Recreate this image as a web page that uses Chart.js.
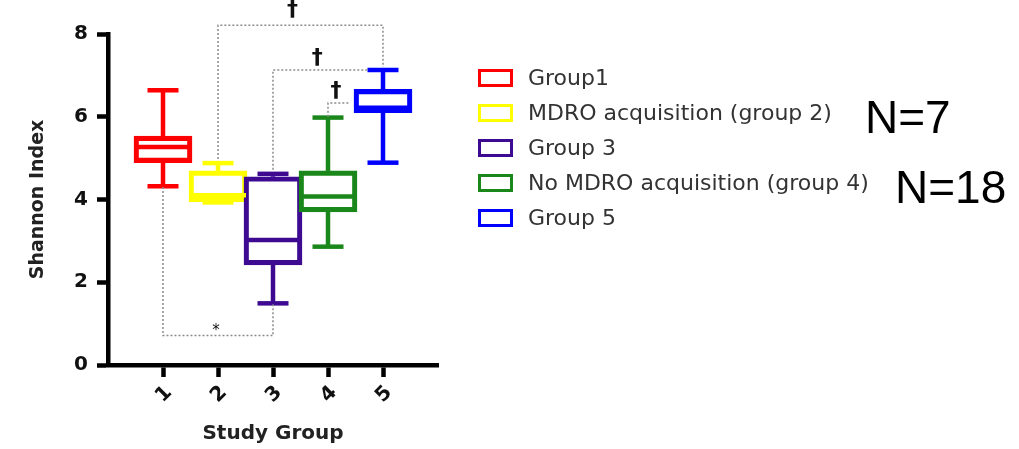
<!DOCTYPE html>
<html>
<head>
<meta charset="utf-8">
<script src="https://cdn.jsdelivr.net/npm/chart.js@4.4.1/dist/chart.umd.min.js"></script>
<style>
  html, body { margin: 0; padding: 0; background: #fff; }
  canvas { display: block; }
</style>
</head>
<body>
<canvas id="chart" width="1019" height="449"></canvas>
<script>
// Shannon index per study group (box = Q1..Q3, whiskers = min..max)
const groups = [1, 2, 3, 4, 5];
const groupNames = ['Group1', 'MDRO acquisition (group 2)', 'Group 3', 'No MDRO acquisition (group 4)', 'Group 5'];
const sampleNotes = ['', 'N=7', '', 'N=18', ''];
const lows = [4.32, 3.93, 1.49, 2.86, 4.89];
const q1s = [4.89, 3.95, 2.42, 3.70, 6.10];
const medians = [5.27, 4.10, 3.02, 4.07, 6.22];
const q3s = [5.53, 4.69, 4.55, 4.69, 6.66];
const highs = [6.64, 4.88, 4.62, 5.98, 7.13];
const yTicks = [0, 2, 4, 6, 8];
const xTicks = [1, 2, 3, 4, 5];

// significance brackets between groups
const bracketFrom = [2, 3, 4, 1];
const bracketTo = [5, 4.72, 4.4, 3];
const bracketLevel = [8.21, 7.13, 6.33, 0.71];
const bracketStartY = [4.98, 4.72, 6.0, 4.3];
const bracketEndY = [7.2, 7.13, 6.33, 1.49];
const bracketMark = ['\u2020', '\u2020', '\u2020', '*'];

const colors = ['#ff0000', '#ffff00', '#3d0a91', '#1a871a', '#0000ff'];
const LINE = 4.5;
const CAP = 31;

const boxExtras = {
  id: 'boxExtras',
  afterDatasetsDraw(chart) {
    const { ctx, scales: { x, y } } = chart;
    const bars = chart.getDatasetMeta(0).data;
    ctx.save();
    ctx.lineWidth = LINE;
    groups.forEach((g, i) => {
      const cx = x.getPixelForValue(g);
      const half = bars[i].width / 2;
      ctx.strokeStyle = colors[i];
      const line = (x1, y1, x2, y2) => {
        ctx.beginPath(); ctx.moveTo(x1, y1); ctx.lineTo(x2, y2); ctx.stroke();
      };
      const ym = y.getPixelForValue(medians[i]);
      line(cx - half + 1, ym, cx + half - 1, ym);
      const yHi = y.getPixelForValue(highs[i]);
      const yLo = y.getPixelForValue(lows[i]);
      line(cx, y.getPixelForValue(q3s[i]), cx, yHi);
      line(cx - CAP / 2, yHi, cx + CAP / 2, yHi);
      line(cx, y.getPixelForValue(q1s[i]), cx, yLo);
      line(cx - CAP / 2, yLo, cx + CAP / 2, yLo);
    });
    ctx.restore();
  },
  afterDraw(chart) {
    const { ctx, scales: { x, y } } = chart;
    ctx.save();

    // dotted brackets with their marks
    ctx.strokeStyle = '#8c8c8c';
    ctx.lineWidth = 1.5;
    ctx.setLineDash([2, 2]);
    bracketFrom.forEach((from, i) => {
      const x1 = x.getPixelForValue(from);
      const x2 = x.getPixelForValue(bracketTo[i]);
      const yl = y.getPixelForValue(bracketLevel[i]);
      ctx.beginPath();
      ctx.moveTo(x1, y.getPixelForValue(bracketStartY[i]));
      ctx.lineTo(x1, yl);
      ctx.lineTo(x2, yl);
      ctx.lineTo(x2, y.getPixelForValue(bracketEndY[i]));
      ctx.stroke();
    });
    ctx.setLineDash([]);
    ctx.fillStyle = '#111';
    ctx.textAlign = 'center';
    ctx.textBaseline = 'alphabetic';
    bracketFrom.forEach((from, i) => {
      const mx = (x.getPixelForValue(from) + x.getPixelForValue(bracketTo[i])) / 2;
      const yl = y.getPixelForValue(bracketLevel[i]);
      if (bracketMark[i] === '*') {
        ctx.font = '15px "DejaVu Sans"';
        ctx.fillText(bracketMark[i], mx - 2, yl - 1);
      } else {
        ctx.font = 'bold 22px "DejaVu Sans"';
        ctx.fillText(bracketMark[i], mx - (i === 0 ? 8 : 3), yl - (i === 0 ? 9 : 6));
      }
    });

    // legend
    const lx = 478, ly = 78, step = 35;
    ctx.textAlign = 'left';
    ctx.textBaseline = 'middle';
    groupNames.forEach((name, i) => {
      const ry = ly + i * step;
      ctx.strokeStyle = colors[i];
      ctx.lineWidth = 3;
      ctx.strokeRect(lx + 1.5, ry - 7.5, 32, 15);
      ctx.fillStyle = '#333';
      ctx.font = '22px "DejaVu Sans"';
      ctx.fillText(name, lx + 50, ry + 1);
    });

    // sample sizes beside the legend
    ctx.fillStyle = '#000';
    ctx.font = '46px "Liberation Sans", Arial, sans-serif';
    ctx.textBaseline = 'alphabetic';
    const noteX = [0, 865, 0, 895, 0];
    sampleNotes.forEach((t, i) => {
      if (t) ctx.fillText(t, noteX[i], ly + i * step + 20);
    });
    ctx.restore();
  }
};

new Chart(document.getElementById('chart'), {
  type: 'bar',
  data: {
    datasets: [{
      data: groups.map((g, i) => ({ x: g, y: [q1s[i], q3s[i]] })),
      backgroundColor: 'rgba(0,0,0,0)',
      borderColor: colors,
      borderWidth: LINE,
      borderSkipped: false,
      barThickness: 58
    }]
  },
  options: {
    responsive: false,
    animation: false,
    layout: { padding: { left: 27, right: 581, top: 34, bottom: 0 } },
    plugins: { legend: { display: false }, tooltip: { enabled: false } },
    scales: {
      x: {
        type: 'linear',
        offset: false,
        min: 0,
        max: 6,
        afterBuildTicks: (axis) => { axis.ticks = xTicks.map(v => ({ value: v })); },
        afterFit: (axis) => { axis.height = 84; },
        border: { color: '#000', width: 4.5 },
        grid: { offset: false, drawOnChartArea: false, drawTicks: true, tickLength: 12, tickWidth: 4.5, tickColor: '#000' },
        ticks: {
          color: '#111',
          font: { family: 'DejaVu Sans', size: 20, weight: 'bold' },
          minRotation: 45,
          maxRotation: 45,
          labelOffset: 6,
          padding: 4
        },
        title: {
          display: true,
          text: 'Study Group',
          color: '#222',
          font: { family: 'DejaVu Sans', size: 20, weight: 'bold' },
          padding: { top: 0, bottom: 3 }
        }
      },
      y: {
        min: 0,
        max: 8,
        afterBuildTicks: (axis) => { axis.ticks = yTicks.map(v => ({ value: v })); },
        afterFit: (axis) => { axis.width = 81; },
        border: { color: '#000', width: 4.5 },
        grid: { drawOnChartArea: false, drawTicks: true, tickLength: 11, tickWidth: 4.5, tickColor: '#000' },
        ticks: {
          color: '#111',
          font: { family: 'DejaVu Sans', size: 20, weight: 'bold' },
          padding: 9
        },
        title: {
          display: true,
          text: 'Shannon Index',
          color: '#222',
          font: { family: 'DejaVu Sans', size: 19, weight: 'bold' },
          padding: { top: 0, bottom: 0 }
        }
      }
    }
  },
  plugins: [boxExtras]
});
</script>
</body>
</html>
